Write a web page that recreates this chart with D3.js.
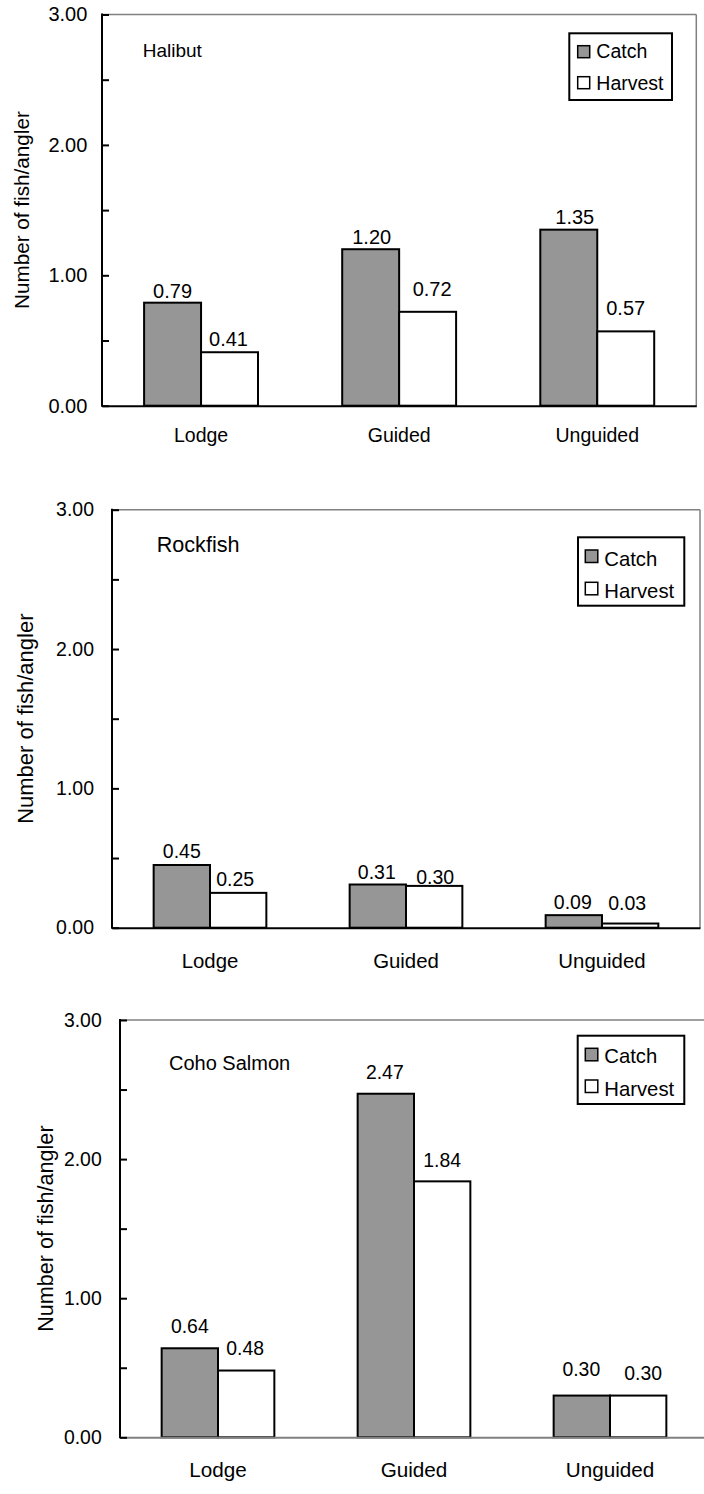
<!DOCTYPE html>
<html>
<head>
<meta charset="utf-8">
<script src="https://cdn.jsdelivr.net/npm/d3@7"></script>
<style>
  html, body { margin: 0; padding: 0; background: #fff; }
  svg { display: block; }
  text { font-family: "Liberation Sans", Arial, sans-serif; fill: #000; }
</style>
</head>
<body>
<script>
// Catch and harvest per angler, by trip type, for three species
const categories = ["Lodge", "Guided", "Unguided"];
const seriesNames = ["Catch", "Harvest"];
const panelTitles = ["Halibut", "Rockfish", "Coho Salmon"];
const axisTitle = "Number of fish/angler";

const halibutCatch = [0.79, 1.20, 1.35];
const halibutHarvest = [0.41, 0.72, 0.57];
const rockfishCatch = [0.45, 0.31, 0.09];
const rockfishHarvest = [0.25, 0.30, 0.03];
const cohoCatch = [0.64, 2.47, 0.30];
const cohoHarvest = [0.48, 1.84, 0.30];

const yDomain = [0, 3];
const yMajorTicks = [0, 1, 2, 3];
const yMinorTicks = [0.5, 1.5, 2.5];

const seriesFill = { Catch: "#969696", Harvest: "#ffffff" };

// Frame, type and label placement for each of the three stacked charts
const layouts = [
  {
    left: 102, right: 696.3, top: 14.5, bottom: 405.7, baseColor: "#000",
    tickPad: 14.7, axisTitleX: 28.5, catGap: 36,
    fs: { tick: 20, value: 20, title: 19, legend: 19.5, cat: 19.5, axis: 20.7 },
    title: [142.7, 56.7],
    legend: { x: 569.3, y: 33.3, w: 102.7, h: 66.7, sx: 8.4, sw: 12, sy: [12.4, 43.4], tx: 27, ty: [25, 56.7] },
    shift: { Catch: [[0, 5], [1, 5], [6, 6]], Harvest: [[-1, 6], [4.5, 16], [0, 16]] }
  },
  {
    left: 112, right: 700, top: 509.7, bottom: 927.7, baseColor: "#000",
    tickPad: 18, axisTitleX: 32.5, catGap: 40,
    fs: { tick: 19.5, value: 19.5, title: 21.6, legend: 20.3, cat: 20.4, axis: 22 },
    title: [156.7, 552.3],
    legend: { x: 578, y: 537.3, w: 106.3, h: 68.4, sx: 7.3, sw: 12.5, sy: [12.7, 45], tx: 26.3, ty: [28.4, 60.4] },
    shift: { Catch: [[0, 7], [-1, 5.5], [-1, 6]], Harvest: [[-3, 7], [1, 2], [-3, 14]] }
  },
  {
    left: 120, right: 708, top: 1020, bottom: 1437.3, baseColor: "#808080",
    tickPad: 18.3, axisTitleX: 52.5, catGap: 39.4,
    fs: { tick: 19.4, value: 19.4, title: 20, legend: 20.3, cat: 20.7, axis: 21.6 },
    title: [169, 1070],
    legend: { x: 577.7, y: 1035.7, w: 106.6, h: 68.3, sx: 7.6, sw: 12.5, sy: [12.6, 44.3], tx: 26.6, ty: [27.6, 60.3] },
    shift: { Catch: [[0, 15], [-1, 14.4], [-0.5, 19.6]], Harvest: [[-1, 15.5], [0, 14], [5, 15.6]] }
  }
];

const panelData = [
  { Catch: halibutCatch, Harvest: halibutHarvest },
  { Catch: rockfishCatch, Harvest: rockfishHarvest },
  { Catch: cohoCatch, Harvest: cohoHarvest }
];

const groupFrac = 0.575;
const fmt = d3.format(".2f");

const svg = d3.select("body").append("svg")
  .attr("width", 704).attr("height", 1494);

layouts.forEach((L, pi) => {
  const g = svg.append("g");
  const values = panelData[pi];

  const x0 = d3.scaleBand().domain(categories).range([L.left, L.right]).padding(0);
  const groupW = x0.bandwidth() * groupFrac;
  const x1 = d3.scaleBand().domain(seriesNames)
    .range([(x0.bandwidth() - groupW) / 2, (x0.bandwidth() + groupW) / 2]).padding(0);
  const y = d3.scaleLinear().domain(yDomain).range([L.bottom, L.top]);

  // top and right frame lines
  g.append("line").attr("x1", L.left).attr("x2", L.right).attr("y1", L.top).attr("y2", L.top)
    .attr("stroke", "#808080").attr("stroke-width", 1.5);
  g.append("line").attr("x1", L.right).attr("x2", L.right).attr("y1", L.top).attr("y2", L.bottom)
    .attr("stroke", "#808080").attr("stroke-width", 1.5);

  // bars
  const rows = categories.map((c, i) => seriesNames.map(s => ({ cat: c, series: s, value: values[s][i], i })));
  g.selectAll("g.cat").data(rows).join("g")
    .attr("transform", d => `translate(${x0(d[0].cat)},0)`)
    .selectAll("rect").data(d => d).join("rect")
    .attr("x", d => x1(d.series))
    .attr("width", x1.bandwidth())
    .attr("y", d => y(d.value))
    .attr("height", d => y(0) - y(d.value))
    .attr("fill", d => seriesFill[d.series])
    .attr("stroke", "#000").attr("stroke-width", 2);

  // value labels above bars
  g.selectAll("text.val").data(rows.flat()).join("text")
    .attr("class", "val")
    .attr("x", d => x0(d.cat) + x1(d.series) + x1.bandwidth() / 2 + L.shift[d.series][d.i][0])
    .attr("y", d => y(d.value) - L.shift[d.series][d.i][1])
    .attr("text-anchor", "middle")
    .style("font-size", L.fs.value + "px")
    .text(d => fmt(d.value));

  // category axis
  const xAxis = g.append("g").attr("transform", `translate(0,${L.bottom})`)
    .call(d3.axisBottom(x0).tickSize(0).tickPadding(L.catGap - 0.71 * L.fs.cat));
  xAxis.select(".domain").attr("stroke", L.baseColor).attr("stroke-width", 2);
  xAxis.selectAll("text").style("font-size", L.fs.cat + "px")
    .style("font-family", "'Liberation Sans', Arial, sans-serif");

  // value axis with inward ticks
  const yAxis = g.append("g").attr("transform", `translate(${L.left},0)`)
    .call(d3.axisLeft(y).tickValues(yMajorTicks).tickFormat(fmt)
      .tickSizeInner(-7).tickSizeOuter(0).tickPadding(L.tickPad));
  yAxis.select(".domain").remove();
  yAxis.selectAll("line").attr("stroke", "#000").attr("stroke-width", 2);
  yAxis.selectAll("text").style("font-size", L.fs.tick + "px")
    .style("font-family", "'Liberation Sans', Arial, sans-serif");

  const yMinor = g.append("g").attr("transform", `translate(${L.left},0)`)
    .call(d3.axisLeft(y).tickValues(yMinorTicks).tickFormat("").tickSizeInner(-7).tickSizeOuter(0));
  yMinor.select(".domain").remove();
  yMinor.selectAll("line").attr("stroke", "#000").attr("stroke-width", 2);

  g.append("line").attr("x1", L.left).attr("x2", L.left).attr("y1", L.top - 1).attr("y2", L.bottom + 1)
    .attr("stroke", "#000").attr("stroke-width", 2);

  // axis title
  g.append("text")
    .attr("transform", `translate(${L.axisTitleX},${(L.top + L.bottom) / 2}) rotate(-90)`)
    .attr("text-anchor", "middle")
    .style("font-size", L.fs.axis + "px")
    .text(axisTitle);

  // species name
  g.append("text").attr("x", L.title[0]).attr("y", L.title[1])
    .style("font-size", L.fs.title + "px")
    .text(panelTitles[pi]);

  // legend
  const lg = g.append("g").attr("transform", `translate(${L.legend.x},${L.legend.y})`);
  lg.append("rect").attr("width", L.legend.w).attr("height", L.legend.h)
    .attr("fill", "#fff").attr("stroke", "#000").attr("stroke-width", 2);
  seriesNames.forEach((s, k) => {
    lg.append("rect").attr("x", L.legend.sx).attr("y", L.legend.sy[k])
      .attr("width", L.legend.sw).attr("height", L.legend.sw)
      .attr("fill", seriesFill[s]).attr("stroke", "#000").attr("stroke-width", 1.5);
    lg.append("text").attr("x", L.legend.tx).attr("y", L.legend.ty[k])
      .style("font-size", L.fs.legend + "px")
      .text(s);
  });
});
</script>
</body>
</html>
